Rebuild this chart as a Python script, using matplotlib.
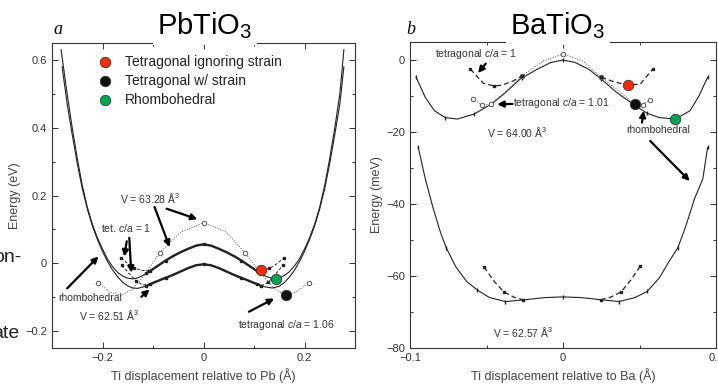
import numpy as np
import matplotlib
matplotlib.use("Agg")
import matplotlib.pyplot as plt

# ── fonts ────────────────────────────────────────────────────────────────
plt.rcParams['font.family'] = ['Liberation Sans', 'DejaVu Sans']
plt.rcParams['mathtext.fontset'] = 'custom'
plt.rcParams['mathtext.rm'] = 'Liberation Sans'
plt.rcParams['mathtext.it'] = 'Liberation Sans:italic'

# ── panel a : PbTiO3 (eV) ────────────────────────────────────────────────
# rhombohedral, V = 63.28
a_hi_x = [-0.282, -0.27, -0.26, -0.25, -0.24, -0.23, -0.22, -0.21, -0.20, -0.19, -0.18, -0.17, -0.16,
          -0.15, -0.14, -0.13, -0.12, -0.11, -0.10, -0.087, -0.075, -0.063, -0.045, -0.03, -0.015, 0,
          0.015, 0.03, 0.045, 0.063, 0.075, 0.087, 0.10, 0.11, 0.12, 0.13, 0.143, 0.15, 0.16, 0.17,
          0.18, 0.19, 0.20, 0.21, 0.22, 0.23, 0.24, 0.25, 0.26, 0.27, 0.278]
a_hi_y = [0.63, 0.50, 0.40, 0.31, 0.23, 0.165, 0.115, 0.075, 0.042, 0.012, -0.010, -0.027, -0.038,
          -0.044, -0.046, -0.043, -0.036, -0.027, -0.017, -0.004, 0.008, 0.019, 0.033, 0.043, 0.052, 0.056,
          0.052, 0.043, 0.033, 0.019, 0.008, -0.004, -0.017, -0.027, -0.036, -0.042, -0.045, -0.043, -0.036,
          -0.025, -0.008, 0.013, 0.042, 0.075, 0.115, 0.165, 0.23, 0.31, 0.40, 0.50, 0.63]
# rhombohedral, V = 62.51
a_lo_x = [-0.28, -0.27, -0.26, -0.25, -0.24, -0.23, -0.22, -0.21, -0.20, -0.19, -0.18, -0.17, -0.16,
          -0.15, -0.14, -0.13, -0.12, -0.11, -0.10, -0.087, -0.075, -0.063, -0.045, -0.03, -0.015, 0,
          0.015, 0.03, 0.045, 0.063, 0.075, 0.087, 0.10, 0.11, 0.12, 0.136, 0.15, 0.16, 0.17, 0.18,
          0.19, 0.20, 0.21, 0.22, 0.23, 0.24, 0.25, 0.26, 0.27, 0.278]
a_lo_y = [0.58, 0.47, 0.38, 0.295, 0.22, 0.16, 0.11, 0.07, 0.035, 0.005, -0.020, -0.040, -0.056,
          -0.067, -0.073, -0.074, -0.070, -0.065, -0.058, -0.050, -0.043, -0.036, -0.024, -0.014, -0.006, -0.003,
          -0.006, -0.014, -0.024, -0.036, -0.043, -0.050, -0.058, -0.064, -0.069, -0.073, -0.068, -0.057,
          -0.041, -0.021, 0.005, 0.035, 0.07, 0.11, 0.16, 0.22, 0.295, 0.38, 0.47, 0.58]
a_mark_x = [-0.113, -0.075, 0, 0.075, 0.113]
a_hi_mark_y = [-0.030, 0.008, 0.056, 0.008, -0.030]
a_lo_mark_y = [-0.066, -0.043, -0.003, -0.043, -0.066]
# tetragonal c/a = 1 branches
a_t1hi_left_x = [-0.163, -0.15, -0.137, -0.122, -0.105]
a_t1hi_left_y = [0.016, -0.001, -0.014, -0.021, -0.022]
a_t1hi_right_x = [0.105, 0.118, 0.13, 0.143, 0.159]
a_t1hi_right_y = [-0.022, -0.021, -0.015, -0.004, 0.015]
a_t1lo_left_x = [-0.161, -0.147, -0.133, -0.12, -0.105]
a_t1lo_left_y = [-0.006, -0.031, -0.053, -0.064, -0.061]
a_t1lo_right_x = [0.105, 0.117, 0.128, 0.142, 0.157]
a_t1lo_right_y = [-0.061, -0.065, -0.056, -0.034, -0.006]
# tetragonal c/a = 1.06
a_t106_x = [-0.208, -0.185, -0.163, -0.14, -0.117, -0.087, -0.045, 0, 0.045, 0.082, 0.117, 0.14, 0.163, 0.185, 0.208]
a_t106_y = [-0.057, -0.085, -0.095, -0.075, -0.035, 0.031, 0.092, 0.12, 0.092, 0.031, -0.035, -0.075, -0.095, -0.083, -0.058]
a_t106_open = [0, 5, 7, 9, 14]
# highlighted minima
a_dot_x = [0.113, 0.163, 0.143]
a_dot_y = [-0.020, -0.095, -0.045]

# ── panel b : BaTiO3 (meV) ───────────────────────────────────────────────
b_r64_x = [-0.096, -0.09, -0.084, -0.077, -0.069, -0.058, -0.047, -0.038, -0.028, -0.017, -0.008, 0,
           0.008, 0.017, 0.025, 0.035, 0.047, 0.055, 0.063, 0.0735, 0.083, 0.089, 0.0945]
b_r64_y = [-4.8, -10.4, -14.1, -16.0, -16.4, -15.0, -12.3, -9.2, -5.3, -2.6, -0.7, 0,
           -0.7, -2.6, -5.3, -9.0, -12.6, -14.8, -16.0, -16.4, -14.1, -9.9, -4.8]
b_r64_mark_x = [-0.096, -0.077, -0.058, -0.027, 0, 0.025, 0.055, 0.0945]
b_r64_mark_y = [-4.8, -16.0, -15.0, -5.0, 0, -5.3, -14.8, -4.8]
b_t101_x = [-0.059, -0.053, -0.047, -0.037, -0.027, -0.013, 0, 0.013, 0.025, 0.037, 0.047, 0.052, 0.057]
b_t101_y = [-10.9, -12.5, -12.2, -8.6, -4.5, -0.3, 1.7, -0.3, -4.8, -8.8, -12.3, -12.5, -11.0]
b_t101_open = [0, 1, 2, 4, 6, 8, 11, 12]
b_t1_left_x = [-0.0606, -0.052, -0.045, -0.04, -0.033, -0.027]
b_t1_left_y = [-2.5, -6.5, -7.2, -7.0, -5.9, -4.5]
b_t1_right_x = [0.025, 0.033, 0.042, 0.0505, 0.0587]
b_t1_right_y = [-4.8, -6.0, -7.0, -6.7, -2.5]
b_r62_x = [-0.0946, -0.09, -0.085, -0.08, -0.0763, -0.07, -0.063, -0.056, -0.048, -0.0376, -0.025, -0.012, 0,
           0.012, 0.025, 0.0366, 0.047, 0.055, 0.063, 0.07, 0.075, 0.08, 0.086, 0.0914, 0.0945]
b_r62_y = [-24.3, -33.0, -41.0, -48.0, -52.2, -57.5, -61.5, -63.9, -66.0, -67.1, -66.6, -66.0, -65.8,
           -66.0, -66.6, -67.1, -66.0, -64.3, -60.5, -55.5, -52.2, -46.5, -38.5, -33.0, -24.3]
b_r62_mark_x = [-0.0946, -0.0763, -0.056, -0.0376, 0, 0.0366, 0.055, 0.075, 0.0945]
b_r62_mark_y = [-24.3, -52.2, -63.9, -67.1, -65.8, -67.1, -64.3, -52.2, -24.3]
b_t1lo_left_x = [-0.0516, -0.045, -0.0387, -0.032, -0.026]
b_t1lo_left_y = [-57.5, -61.5, -64.4, -65.9, -66.6]
b_t1lo_right_x = [0.0247, 0.031, 0.038, 0.044, 0.0505]
b_t1lo_right_y = [-66.6, -65.9, -64.4, -61.3, -57.3]
b_dot_x = [0.0424, 0.047, 0.0735]
b_dot_y = [-7.0, -12.3, -16.3]

legend_labels = ['Tetragonal ignoring strain', 'Tetragonal w/ strain', 'Rhombohedral']
dot_colors = ['#ff2a00', '#111111', '#00a651']

INK = '#222222'
fig = plt.figure(figsize=(7.18, 3.87), dpi=100)
ax_a = fig.add_axes([52 / 718, 1 - 348 / 387, 303 / 718, 305 / 387])
ax_b = fig.add_axes([410 / 718, 1 - 348 / 387, 306 / 718, 306 / 387])

arrow = dict(arrowstyle='-|>', color='black', lw=1.6, mutation_scale=9, shrinkA=0, shrinkB=0)
small = dict(fontsize=7.5, color='#333333')

# panel a
ax = ax_a
ax.plot(a_hi_x, a_hi_y, color=INK, lw=0.8)
ax.plot(a_lo_x, a_lo_y, color=INK, lw=0.8)
for xs, ys in [(a_hi_x, a_hi_y), (a_lo_x, a_lo_y)]:
    xs, ys = np.array(xs), np.array(ys)
    m = np.abs(xs) <= 0.115
    ax.plot(xs[m], ys[m], color=INK, lw=1.7)
ax.plot(a_mark_x, a_hi_mark_y, 's', color=INK, ms=1.8)
ax.plot(a_mark_x, a_lo_mark_y, 's', color=INK, ms=1.8)
for xs, ys in [(a_t1hi_left_x, a_t1hi_left_y), (a_t1hi_right_x, a_t1hi_right_y),
               (a_t1lo_left_x, a_t1lo_left_y), (a_t1lo_right_x, a_t1lo_right_y)]:
    ax.plot(xs, ys, color=INK, lw=0.7, ls=(0, (3, 2)), marker='s', ms=1.8, markevery=2)
ax.plot(a_t106_x, a_t106_y, color='#555555', lw=0.7, ls=':')
ax.plot(np.array(a_t106_x)[a_t106_open], np.array(a_t106_y)[a_t106_open], 'o', mfc='white',
        mec='#555555', ms=3.2, mew=0.7)
for i in range(3):
    ax.plot(a_dot_x[i], a_dot_y[i], 'o', color=dot_colors[i], mec='#333333', mew=0.6, ms=7.5, zorder=5)

ax.text(-0.106, 0.194, 'V = 63.28 Å$^3$', ha='center', va='center', **small)
ax.annotate('', xy=(-0.067, 0.048), xytext=(-0.097, 0.166), arrowprops=arrow)
ax.annotate('', xy=(-0.012, 0.13), xytext=(-0.073, 0.161), arrowprops=arrow)
ax.text(-0.153, 0.103, 'tet. $\\it{c/a}$ = 1', ha='center', va='center', **small)
ax.annotate('', xy=(-0.143, -0.028), xytext=(-0.147, 0.075), arrowprops=arrow)
ax.annotate('', xy=(-0.157, 0.02), xytext=(-0.152, 0.065), arrowprops=arrow)
ax.text(-0.224, -0.103, 'rhombohedral', ha='center', va='center', **small)
ax.annotate('', xy=(-0.208, 0.02), xytext=(-0.27, -0.074), arrowprops=arrow)
ax.text(-0.186, -0.153, 'V = 62.51 Å$^3$', ha='center', va='center', **small)
ax.annotate('', xy=(-0.107, -0.077), xytext=(-0.123, -0.099), arrowprops=arrow)
ax.text(0.163, -0.182, 'tetragonal $\\it{c/a}$ = 1.06', ha='center', va='center', **small)
ax.annotate('', xy=(0.14, -0.104), xytext=(0.09, -0.143), arrowprops=arrow)

for i, lab in enumerate(legend_labels):
    yy = 0.938 - i * 0.062
    ax.plot(0.175, yy, 'o', color=dot_colors[i], mec='#333333', mew=0.6, ms=7.5,
            transform=ax.transAxes, clip_on=False)
    ax.text(0.24, yy, lab, transform=ax.transAxes, ha='left', va='center', fontsize=10, color='#222222')

ax.set_xlim(-0.3, 0.3)
ax.set_ylim(-0.25, 0.65)
ax.set_xticks([-0.2, 0, 0.2])
ax.set_xticklabels(['−0.2', '0', '0.2'])
ax.set_xticks([-0.3, -0.1, 0.1, 0.3], minor=True)
ax.set_yticks([-0.2, 0, 0.2, 0.4, 0.6])
ax.set_yticklabels(['−0.2', '0', '0.2', '0.4', '0.6'])
ax.set_yticks([-0.1, 0.1, 0.3, 0.5], minor=True)
ax.set_xlabel('Ti displacement relative to Pb (Å)', fontsize=9, color='#444444', labelpad=4)
ax.set_ylabel('Energy (eV)', fontsize=9, color='#444444', labelpad=3)

# panel b
ax = ax_b
ax.plot(b_r64_x, b_r64_y, color=INK, lw=0.8)
ax.plot(b_r64_mark_x, b_r64_mark_y, '|', color=INK, ms=3)
ax.plot(b_t101_x, b_t101_y, color='#555555', lw=0.7, ls=':')
ax.plot(np.array(b_t101_x)[b_t101_open], np.array(b_t101_y)[b_t101_open], 'o', mfc='white',
        mec='#555555', ms=3.2, mew=0.7)
for xs, ys in [(b_t1_left_x, b_t1_left_y), (b_t1_right_x, b_t1_right_y),
               (b_t1lo_left_x, b_t1lo_left_y), (b_t1lo_right_x, b_t1lo_right_y)]:
    ax.plot(xs, ys, color=INK, lw=0.9, ls=(0, (4, 2.5)))
    ax.plot([xs[0], xs[2], xs[-1]], [ys[0], ys[2], ys[-1]], 's', color=INK, ms=1.8)
ax.plot(b_r62_x, b_r62_y, color=INK, lw=0.8)
ax.plot(b_r62_mark_x, b_r62_mark_y, '|', color=INK, ms=3)
for i in range(3):
    ax.plot(b_dot_x[i], b_dot_y[i], 'o', color=dot_colors[i], mec='#333333', mew=0.6, ms=7.5, zorder=5)

ax.text(-0.0568, 1.7, 'tetragonal $\\it{c/a}$ = 1', ha='center', va='center', **small)
ax.annotate('', xy=(-0.0555, -3.6), xytext=(-0.0505, -1.0), arrowprops=arrow)
ax.text(-0.0325, -12.0, 'tetragonal $\\it{c/a}$ = 1.01', ha='left', va='center', **small)
ax.annotate('', xy=(-0.043, -12.3), xytext=(-0.033, -12.2), arrowprops=arrow)
ax.text(-0.030, -20.0, 'V = 64.00 Å$^3$', ha='center', va='center', **small)
ax.text(0.0625, -19.5, 'rhombohedral', ha='center', va='center', **small)
ax.annotate('', xy=(0.0527, -14.1), xytext=(0.0516, -17.4), arrowprops=arrow)
ax.annotate('', xy=(0.0828, -33.6), xytext=(0.057, -22.5), arrowprops=arrow)
ax.text(-0.0258, -75.5, 'V = 62.57 Å$^3$', ha='center', va='center', **small)

ax.set_xlim(-0.1, 0.1)
ax.set_ylim(-80, 5)
ax.set_xticks([-0.1, 0, 0.1])
ax.set_xticklabels(['−0.1', '0', '0.1'])
ax.set_xticks([-0.05, 0.05], minor=True)
ax.set_yticks([-80, -60, -40, -20, 0])
ax.set_yticklabels(['−80', '−60', '−40', '−20', '0'])
ax.set_yticks([-70, -50, -30, -10], minor=True)
ax.set_xlabel('Ti displacement relative to Ba (Å)', fontsize=9, color='#444444', labelpad=4)
ax.set_ylabel('Energy (meV)', fontsize=9, color='#444444', labelpad=2)

for ax in (ax_a, ax_b):
    ax.tick_params(which='both', direction='in', top=True, right=True, labelsize=8,
                   colors='#333333', width=0.7)
    ax.tick_params(which='major', length=4)
    ax.tick_params(which='minor', length=2.5)
    for s in ax.spines.values():
        s.set_linewidth(0.8)
        s.set_color('#333333')

# titles sitting over the top frame
box = dict(facecolor='white', edgecolor='none', pad=3)
fig.text(205 / 718, 1 - 34 / 387, 'PbTiO$_3$', ha='center', va='baseline', fontsize=21, bbox=box, zorder=10)
fig.text(558 / 718, 1 - 34 / 387, 'BaTiO$_3$', ha='center', va='baseline', fontsize=21, bbox=box, zorder=10)
fig.text(53 / 718, 1 - 34 / 387, 'a', family='Liberation Serif', style='italic', fontsize=13)
fig.text(406 / 718, 1 - 34 / 387, 'b', family='Liberation Serif', style='italic', fontsize=13)

# cut-off slide text on the left edge
fig.text(21 / 718, 1 - 258 / 387, 'on-', ha='right', va='center', fontsize=14, color='#222222')
fig.text(19 / 718, 1 - 333 / 387, 'ate', ha='right', va='center', fontsize=14, color='#222222')

plt.savefig('out.png', dpi=100)
